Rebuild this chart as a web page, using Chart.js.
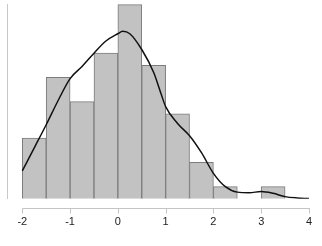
<!DOCTYPE html>
<html>
<head>
<meta charset="utf-8">
<style>
  html, body { margin: 0; padding: 0; background: #fff; }
</style>
<script src="https://cdn.jsdelivr.net/npm/chart.js@4"></script>
</head>
<body>
<canvas id="grafico" width="322" height="246"></canvas>
<script>
// histogram bins (centers) and counts
const binCenters = [-1.75, -1.25, -0.75, -0.25, 0.25, 0.75, 1.25, 1.75, 2.25, 2.75, 3.25];
const binCounts = [5, 10, 8, 12, 16, 11, 7, 3, 1, null, 1];

// density curve, scaled to counts
const curveX = [-2, -1.75, -1.5, -1.25, -1, -0.75, -0.5, -0.25, 0, 0.1, 0.25, 0.5, 0.75, 0.9, 1, 1.25, 1.5, 1.75, 2, 2.25, 2.5, 2.75, 3, 3.25, 3.5, 3.75, 4];
const curveY = [2.3, 4.2, 6.1, 8.1, 9.9, 10.9, 12.0, 13.0, 13.6, 13.8, 13.6, 12.3, 10.4, 8.7, 7.6, 6.2, 5.2, 3.8, 2.1, 1.0, 0.55, 0.5, 0.6, 0.45, 0.18, 0.07, 0.02];

const xTicks = [-2, -1, 0, 1, 2, 3, 4];

// eixo x separado das barras, como no R
const eixoX = {
    id: 'eixoX',
    afterDraw(chart) {
        const ctx = chart.ctx;
        const x = chart.scales.x;
        const y0 = Math.round(chart.scales.y.getPixelForValue(0)) + 9.5;
        ctx.save();
        ctx.strokeStyle = '#c4c4c4';
        ctx.lineWidth = 1;
        ctx.beginPath();
        ctx.moveTo(x.getPixelForValue(xTicks[0]), y0);
        ctx.lineTo(x.getPixelForValue(xTicks[xTicks.length - 1]) + 1, y0);
        xTicks.forEach(v => {
            const px = Math.round(x.getPixelForValue(v)) + 0.5;
            ctx.moveTo(px, y0);
            ctx.lineTo(px, y0 + 5);
        });
        ctx.stroke();
        ctx.restore();
    }
};

new Chart(document.getElementById('grafico'), {
    data: {
        datasets: [{
            type: 'line',
            data: curveX.map((v, i) => ({ x: v, y: curveY[i] })),
            borderColor: '#111',
            borderWidth: 1.5,
            pointRadius: 0,
            cubicInterpolationMode: 'monotone',
            fill: false
        }, {
            type: 'bar',
            data: binCenters.map((v, i) => ({ x: v, y: binCounts[i] })),
            backgroundColor: '#c2c2c2',
            borderColor: '#7c7c7c',
            borderWidth: 1,
            barPercentage: 1,
            categoryPercentage: 1,
            grouped: false
        }]
    },
    options: {
        responsive: false,
        animation: false,
        layout: { padding: { left: 7.5, right: 3, top: 4, bottom: 0 } },
        plugins: { legend: { display: false }, tooltip: { enabled: false } },
        scales: {
            x: {
                type: 'linear',
                offset: false,
                min: -2.31,
                max: 4.21,
                grid: { display: false, drawTicks: false },
                border: { display: false },
                afterBuildTicks: s => { s.ticks = xTicks.map(v => ({ value: v })); },
                afterFit: s => { s.paddingLeft = 0; s.paddingRight = 0; },
                ticks: {
                    autoSkip: false,
                    maxRotation: 0,
                    padding: 17,
                    color: '#222',
                    font: { family: 'Liberation Sans', size: 11 }
                }
            },
            y: {
                min: 0,
                max: 16.05,
                ticks: { display: false },
                grid: { display: false, drawTicks: false },
                border: { display: true, color: '#c8c8c8' }
            }
        }
    },
    plugins: [eixoX]
});
</script>
</body>
</html>
